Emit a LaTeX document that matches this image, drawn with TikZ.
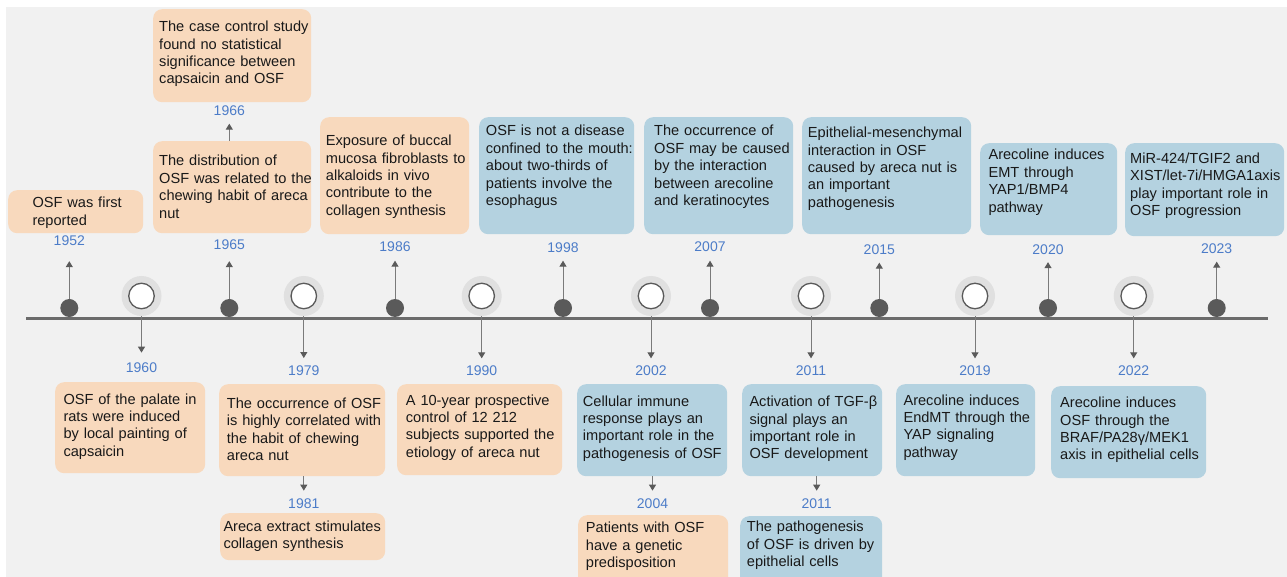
\documentclass[tikz,border=0pt]{standalone}
\usepackage{fontspec}
\setmainfont{Liberation Sans}
\usetikzlibrary{arrows.meta}
\definecolor{bggray}{HTML}{F1F1F1}
\definecolor{halogray}{HTML}{E0E0E0}
\definecolor{dotgray}{HTML}{5A5A5A}
\definecolor{linegray}{HTML}{6B6B6B}
\definecolor{arrowgray}{HTML}{7A7A7A}
\definecolor{peach}{HTML}{F8D9BD}
\definecolor{paleblue}{HTML}{B4D2E0}
\definecolor{yearblue}{HTML}{4C7CC8}
\begin{document}
\begin{tikzpicture}[x=1pt, y=-1pt,
        box/.style={rounded corners=9pt, inner sep=0pt, anchor=north west},
        oldbox/.style={box, fill=peach},
        newbox/.style={box, fill=paleblue},
        txt/.style={anchor=base west, inner sep=0pt, text width=190pt, align=left,
            font=\fontsize{14.6}{17.4}\selectfont, text=black!90},
        year/.style={inner sep=7.5pt, font=\fontsize{14}{16}\selectfont, text=yearblue},
        dot/.style={circle, fill=dotgray, minimum size=18pt, inner sep=0pt},
        halo/.style={circle, fill=halogray, minimum size=40pt, inner sep=0pt},
        ring/.style={circle, fill=white, draw=dotgray, line width=1.3pt, minimum size=25.5pt, inner sep=0pt},
        tip/.style={draw=arrowgray, line width=1pt, -{Triangle[width=7pt,length=6pt,color=dotgray]}}]
    \useasboundingbox (0,0) rectangle (1287,577);
    \clip (0,0) rectangle (1287,577);
    \fill[bggray] (6,7) rectangle (1287,577);

    % timeline
    \coordinate (tlstart) at (26,318.7);
    \coordinate (tlend) at (1268,318.7);
    \draw[linegray, line width=2.8pt] (tlstart) -- (tlend);

    % events above the line
    \node[dot] (d1952) at (69.3,308) {};
    \node[dot] (d1965) at (229.3,308) {};
    \node[dot] (d1986) at (395,308) {};
    \node[dot] (d1998) at (563,308) {};
    \node[dot] (d2007) at (710,308) {};
    \node[dot] (d2015) at (879.3,308) {};
    \node[dot] (d2020) at (1048,308) {};
    \node[dot] (d2023) at (1216.7,308) {};

    \node[year] (y1952) at (69.3,241) {1952};
    \node[year] (y1965) at (229.3,245) {1965};
    \node[year] (y1966) at (229.3,111) {1966};
    \node[year] (y1986) at (395,247) {1986};
    \node[year] (y1998) at (563,248) {1998};
    \node[year] (y2007) at (710,247) {2007};
    \node[year] (y2015) at (879.3,250) {2015};
    \node[year] (y2020) at (1048,249.5) {2020};
    \node[year] (y2023) at (1216.7,249) {2023};

    \node[oldbox, minimum width=135pt, minimum height=43pt] (b1952) at (8,190) {};
    \node[txt] (t1952) at (32.3,207.7) {OSF was first\\reported};
    \node[oldbox, minimum width=158pt, minimum height=93pt] (b1966) at (153,9) {};
    \node[txt] (t1966) at (159,31.7) {The case control study\\found no statistical\\significance between\\capsaicin and OSF};
    \node[oldbox, minimum width=158pt, minimum height=92pt] (b1965) at (153,141) {};
    \node[txt] (t1965) at (159,166) {The distribution of\\OSF was related to the\\chewing habit of areca\\nut};
    \node[oldbox, minimum width=149pt, minimum height=117pt] (b1986) at (320,117) {};
    \node[txt] (t1986) at (325.7,145.7) {Exposure of buccal\\mucosa fibroblasts to\\alkaloids in vivo\\contribute to the\\collagen synthesis};
    \node[newbox, minimum width=155pt, minimum height=117pt] (b1998) at (479,117) {};
    \node[txt] (t1998) at (485.7,136) {OSF is not a disease\\confined to the mouth:\\about two-thirds of\\patients involve the\\esophagus};
    \node[newbox, minimum width=149pt, minimum height=117pt] (b2007) at (644,117) {};
    \node[txt] (t2007) at (654,136) {The occurrence of\\OSF may be caused\\by the interaction\\between arecoline\\and keratinocytes};
    \node[newbox, minimum width=169pt, minimum height=117pt] (b2015) at (802,117) {};
    \node[txt] (t2015) at (807.7,137.7) {Epithelial-mesenchymal\\interaction in OSF\\caused by areca nut is\\an important\\pathogenesis};
    \node[newbox, minimum width=137pt, minimum height=92pt] (b2020) at (980,143) {};
    \node[txt] (t2020) at (988.3,160) {Arecoline induces\\EMT through\\YAP1/BMP4\\pathway};
    \node[newbox, minimum width=159pt, minimum height=93pt] (b2023) at (1125,143) {};
    \node[txt] (t2023) at (1130,163.3) {MiR-424/TGIF2 and\\XIST/let-7i/HMGA1axis\\play important role in\\OSF progression};

    % events below the line
    \node[halo] (h1960) at (141.5,296) {};
    \node[halo] (h1979) at (303.8,296) {};
    \node[halo] (h1990) at (481.7,296) {};
    \node[halo] (h2002) at (651,296) {};
    \node[halo] (h2011) at (811,296) {};
    \node[halo] (h2019) at (975,296) {};
    \node[halo] (h2022) at (1133.7,296) {};
    \node[ring] (r1960) at (h1960) {};
    \node[ring] (r1979) at (h1979) {};
    \node[ring] (r1990) at (h1990) {};
    \node[ring] (r2002) at (h2002) {};
    \node[ring] (r2011) at (h2011) {};
    \node[ring] (r2019) at (h2019) {};
    \node[ring] (r2022) at (h2022) {};

    \node[year] (y1960) at (141.5,367.3) {1960};
    \node[year] (y1979) at (303.8,370.7) {1979};
    \node[year] (y1981) at (303.8,503.3) {1981};
    \node[year] (y1990) at (481.7,371) {1990};
    \node[year] (y2002) at (651,371) {2002};
    \node[year] (y2004) at (652.5,503.3) {2004};
    \node[year] (y2011) at (811,371) {2011};
    \node[year] (y2011b) at (816.7,503.3) {2011};
    \node[year] (y2019) at (975,371) {2019};
    \node[year] (y2022) at (1133.7,371) {2022};

    \node[oldbox, minimum width=150pt, minimum height=91pt] (b1960) at (55,382) {};
    \node[txt] (t1960) at (63.3,404) {OSF of the palate in\\rats were induced\\by local painting of\\capsaicin};
    \node[oldbox, minimum width=166pt, minimum height=92pt] (b1979) at (219,384) {};
    \node[txt] (t1979) at (226.7,408.3) {The occurrence of OSF\\is highly correlated with\\the habit of chewing\\areca nut};
    \node[oldbox, minimum width=165pt, minimum height=47pt] (b1981) at (220,513) {};
    \node[txt] (t1981) at (223.3,531) {Areca extract stimulates\\collagen synthesis};
    \node[oldbox, minimum width=165pt, minimum height=91pt] (b1990) at (397,384) {};
    \node[txt] (t1990) at (405.7,405) {A 10-year prospective\\control of 12 212\\subjects supported the\\etiology of areca nut};
    \node[newbox, minimum width=150pt, minimum height=92pt] (b2002) at (577,384) {};
    \node[txt] (t2002) at (582.7,406) {Cellular immune\\response plays an\\important role in the\\pathogenesis of OSF};
    \node[oldbox, minimum width=150pt, minimum height=80pt] (b2004) at (578,515) {};
    \node[txt] (t2004) at (585.7,532.7) {Patients with OSF\\have a genetic\\predisposition};
    \node[newbox, minimum width=140pt, minimum height=92pt] (b2011) at (742,384) {};
    \node[txt] (t2011) at (749.3,406.7) {Activation of TGF-β\\signal plays an\\important role in\\OSF development};
    \node[newbox, minimum width=142pt, minimum height=80pt] (b2011b) at (740,516) {};
    \node[txt] (t2011b) at (746.7,531.7) {The pathogenesis\\of OSF is driven by\\epithelial cells};
    \node[newbox, minimum width=139pt, minimum height=92pt] (b2019) at (896,384) {};
    \node[txt] (t2019) at (903.3,405) {Arecoline induces\\EndMT through the\\YAP signaling\\pathway};
    \node[newbox, minimum width=155pt, minimum height=92pt] (b2022) at (1051,386) {};
    \node[txt] (t2022) at (1060,407.7) {Arecoline induces\\OSF through the\\BRAF/PA28γ/MEK1\\axis in epithelial cells};

    % arrows
    \draw[tip, shorten >=7.5pt] (d1952) -- (y1952);
    \draw[tip, shorten >=3.5pt] (d1965) -- (y1965);
    \draw[tip] (y1966 |- b1965.north) -- (y1966);
    \draw[tip, shorten >=1pt] (d1986) -- (y1986);
    \draw[tip] (d1998) -- (y1998);
    \draw[tip, shorten >=1pt] (d2007) -- (y2007);
    \draw[tip] (d2015) -- (y2015);
    \draw[tip] (d2020) -- (y2020);
    \draw[tip] (d2023) -- (y2023);
    \draw[tip, shorten >=2pt] (h1960) -- (y1960);
    \draw[tip] (h1979) -- (y1979);
    \draw[tip] (y1981 |- b1979.south) -- (y1981);
    \draw[tip] (h1990) -- (y1990);
    \draw[tip] (h2002) -- (y2002);
    \draw[tip] (y2004 |- b2002.south) -- (y2004);
    \draw[tip] (h2011) -- (y2011);
    \draw[tip] (y2011b |- b2011.south) -- (y2011b);
    \draw[tip] (h2019) -- (y2019);
    \draw[tip] (h2022) -- (y2022);
\end{tikzpicture}
\end{document}
